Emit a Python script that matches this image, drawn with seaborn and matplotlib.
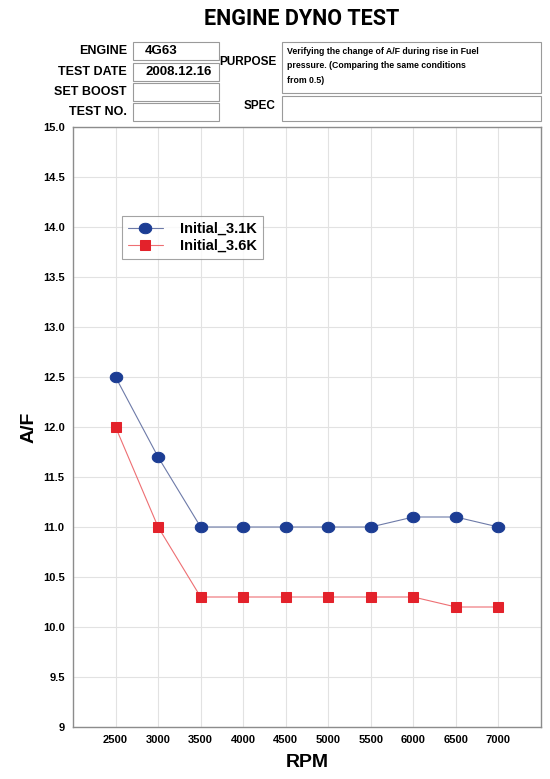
import numpy as np
import pandas as pd
import matplotlib.pyplot as plt
import seaborn as sns

# chart data
rpm = [2500, 3000, 3500, 4000, 4500, 5000, 5500, 6000, 6500, 7000]
af_31k = [12.5, 11.7, 11.0, 11.0, 11.0, 11.0, 11.0, 11.1, 11.1, 11.0]
af_36k = [12.0, 11.0, 10.3, 10.3, 10.3, 10.3, 10.3, 10.3, 10.2, 10.2]
series_names = ['Initial_3.1K', 'Initial_3.6K']
y_ticks = [9.0, 9.5, 10.0, 10.5, 11.0, 11.5, 12.0, 12.5, 13.0, 13.5, 14.0, 14.5, 15.0]
y_tick_labels = ['9', '9.5', '10.0', '10.5', '11.0', '11.5', '12.0', '12.5',
                 '13.0', '13.5', '14.0', '14.5', '15.0']

header_fields = ['ENGINE', 'TEST DATE', 'SET BOOST', 'TEST NO.']
header_values = ['4G63', '2008.12.16', '', '']
purpose_text = ("Verifying the change of A/F during rise in Fuel\n"
                "pressure. (Comparing the same conditions\n"
                "from 0.5)")

df = pd.DataFrame({
    'RPM': rpm * 2,
    'A/F': af_31k + af_36k,
    'Series': [series_names[0]] * len(rpm) + [series_names[1]] * len(rpm),
})

sns.set_style('white')
plt.rcParams['font.family'] = ['Liberation Sans', 'DejaVu Sans']
plt.rcParams['text.color'] = 'black'
plt.rcParams['axes.labelcolor'] = 'black'
plt.rcParams['xtick.color'] = 'black'
plt.rcParams['ytick.color'] = 'black'

fig = plt.figure(figsize=(5.5, 7.79), dpi=100)
ax = fig.add_axes([73 / 550, 1 - 727 / 779, (541 - 73) / 550, (727 - 127) / 779])

marker_cols = {'Initial_3.1K': '#1c3d94', 'Initial_3.6K': '#e3222b'}
line_cols = {'Initial_3.1K': '#6d7aa8', 'Initial_3.6K': '#ee6f73'}

# slightly flattened circle, like the blue dots in the reference
t = np.linspace(0, 2 * np.pi, 40)
ellipse = np.column_stack([np.cos(t) * 1.2, np.sin(t)])

sns.lineplot(data=df, x='RPM', y='A/F', hue='Series', style='Series',
             palette=marker_cols, markers={'Initial_3.1K': 'o', 'Initial_3.6K': 's'},
             dashes=False, linewidth=0.8, markersize=7.5, ax=ax, legend=False)

for line, name in zip(ax.lines, series_names):
    line.set_color(line_cols[name])
    line.set_markerfacecolor(marker_cols[name])
    line.set_markeredgecolor(marker_cols[name])
    line.set_label(name)
ax.lines[0].set_marker(ellipse)
ax.lines[0].set_markersize(9)

ax.set_xlim(2000, 7500)
ax.set_ylim(9, 15)
ax.set_xticks(rpm)
ax.set_xticklabels([str(r) for r in rpm], fontsize=8, fontweight='bold')
ax.set_yticks(y_ticks)
ax.set_yticklabels(y_tick_labels, fontsize=8, fontweight='bold')
ax.tick_params(length=0, pad=6)
ax.grid(True, color='#e2e2e2', linewidth=0.8)
for s in ax.spines.values():
    s.set_color('#8c8c8c')
    s.set_linewidth(1.0)

ax.set_xlabel('RPM', fontsize=14, fontweight='bold', labelpad=6)
ax.set_ylabel('A/F', fontsize=14, fontweight='bold', labelpad=4)

leg = ax.legend(handles=ax.lines[:2], labels=series_names, loc='upper left',
                bbox_to_anchor=(49 / 468, 1 - 89 / 600), frameon=True, fancybox=False,
                prop={'weight': 'bold', 'size': 10.5}, handlelength=2.4,
                handletextpad=1.2, borderpad=0.4, labelspacing=0.2, borderaxespad=0)
leg.get_frame().set_edgecolor('#8c8c8c')
leg.get_frame().set_linewidth(0.8)

# header block
fig.text(302 / 550, 1 - 19 / 779, 'ENGINE DYNO TEST', ha='center', va='center',
         fontsize=15.5, fontweight='bold', family=['Roboto', 'DejaVu Sans'])

box_tops = [42, 63, 83, 103]
for field, value, top in zip(header_fields, header_values, box_tops):
    h = 18
    fig.patches.append(plt.Rectangle((133 / 550, 1 - (top + h) / 779), 86 / 550, h / 779,
                                     transform=fig.transFigure, fill=False,
                                     edgecolor='#9a9a9a', linewidth=0.8))
    fig.text(127 / 550, 1 - (top + h / 2) / 779, field, ha='right', va='center',
             fontsize=9, fontweight='bold')
    if value:
        fig.text(145 / 550, 1 - (top + h / 2) / 779, value, ha='left', va='center',
                 fontsize=9.5, fontweight='bold')

fig.patches.append(plt.Rectangle((282 / 550, 1 - 93 / 779), 259 / 550, 51 / 779,
                                 transform=fig.transFigure, fill=False,
                                 edgecolor='#9a9a9a', linewidth=0.8))
fig.patches.append(plt.Rectangle((282 / 550, 1 - 121 / 779), 259 / 550, 25 / 779,
                                 transform=fig.transFigure, fill=False,
                                 edgecolor='#9a9a9a', linewidth=0.8))
fig.text(276 / 550, 1 - 62 / 779, 'PURPOSE', ha='right', va='center',
         fontsize=8.5, fontweight='bold')
fig.text(276 / 550, 1 - 106 / 779, 'SPEC', ha='right', va='center',
         fontsize=8.5, fontweight='bold')
fig.text(287 / 550, 1 - 66 / 779, purpose_text, ha='left', va='center',
         fontsize=6.3, fontweight='bold', linespacing=1.75)

fig.savefig('out.png', dpi=100)
